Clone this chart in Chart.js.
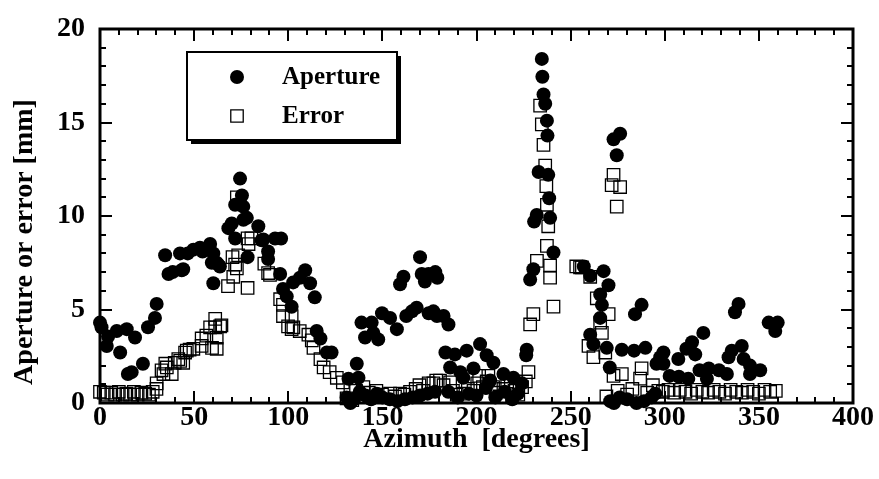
<!DOCTYPE html>
<html>
<head>
<meta charset="utf-8">
<script src="https://cdn.jsdelivr.net/npm/chart.js@4/dist/chart.umd.min.js"></script>
<style>
  html, body { margin: 0; padding: 0; background: #fff; }
  canvas { display: block; }
</style>
</head>
<body>
<canvas id="chart" width="879" height="479"></canvas>
<script>
// Measured fracture aperture and its error versus azimuth
const apertureAz = [
  0, 0.8, 3.6, 4.3, 8.9, 10.7, 14.2, 14.8, 16.8, 18.6, 22.8, 25.5, 29.2, 30.1,
  34.6, 36.4, 38.6, 42.5, 43.4, 44.2, 46.6, 49.6, 53.1, 54.5, 58.5, 59.4, 60.2, 60.2,
  62.0, 62.9, 63.7, 68.2, 70.0, 71.8, 71.8, 74.4, 75.4, 76.1, 76.2, 78.0, 78.4,
  84.1, 85.9, 86.8, 89.3, 89.3, 93.0, 95.7, 96.2, 97.2, 99.2, 101.8, 102.6,
  106.2, 109.0, 111.6, 114.1, 115.1, 117.1, 120.5, 123.0,
  131, 132, 133, 135, 136.4, 137.3, 138, 138.9, 140.8, 141, 144, 144.3, 145.2, 147,
  147.8, 149.8, 150, 154, 154.1, 157.7, 158, 159.4, 161.2, 162, 162.7, 165.7, 166,
  168.2, 170.0, 170, 170.9, 172.6, 174.5, 174.6, 174, 177.1, 178, 178.1, 179.0, 179.2,
  182.5, 183.5, 185, 185.1, 186, 188.5, 190, 191.4, 193, 194.8, 196, 198.4, 200,
  201.9, 205, 205.4, 207.3, 209, 210, 214.3, 215, 219, 219.6, 222, 224.1, 226.4, 226.7,
  228.5, 230.2, 230.6, 232.0, 233.0, 234.7, 235.0, 235.6, 236.5, 237.4, 237.7,
  238.1, 238.6, 239.1, 240.9,
  257, 260.4, 260.4, 262.1, 265.7, 265.7, 266.6, 267.5, 269.2, 270.1, 270.8, 271,
  272.8, 273, 274.5, 276, 276.3, 277.2, 280, 283.7, 284.2, 285, 287.7, 289, 289.7,
  293, 295, 295.6, 297.6, 299.3, 299.3,
  302.6, 307.2, 307.5, 311.5, 312.5, 314.5, 316.2, 318.5, 320.5, 322.4, 323.4,
  328.8, 333, 333.9, 335.6, 337.3, 339.2, 340.9, 341.9, 345.3, 345.3, 350.7,
  355.2, 358.7, 360
];
const apertureMm = [
  4.3, 4.05, 3.05, 3.55, 3.85, 2.7, 3.95, 1.55, 1.65, 3.5, 2.1, 4.05, 4.55, 5.3,
  7.9, 6.9, 7.0, 8.0, 7.1, 7.15, 8.0, 8.2, 8.3, 8.1, 8.5, 7.5, 8.0, 6.4,
  7.5, 7.4, 7.3, 9.35, 9.6, 10.6, 8.8, 12.0, 11.1, 10.5, 9.8, 9.9, 7.8,
  9.45, 8.7, 8.75, 8.1, 7.7, 8.8, 6.9, 8.8, 6.1, 5.7, 5.15, 6.45,
  6.7, 7.1, 6.4, 5.65, 3.85, 3.45, 2.7, 2.7,
  0.3, 1.3, 0.0, 0.2, 2.1, 1.35, 0.6, 4.3, 3.5, 0.4, 0.2, 4.3, 3.75, 0.5,
  3.4, 4.8, 0.3, 0.2, 4.55, 3.95, 0.1, 6.35, 6.75, 0.2, 4.65, 4.9, 0.3,
  5.1, 7.8, 0.4, 6.9, 6.5, 6.9, 4.8, 0.5, 4.9, 0.6, 7.0, 4.65, 6.7,
  4.65, 2.7, 0.6, 4.2, 1.9, 2.6, 0.3, 1.65, 1.35, 2.8, 0.5, 1.85, 0.4,
  3.15, 0.8, 2.55, 1.2, 2.15, 0.3, 1.55, 0.6, 0.2, 1.35, 0.5, 1.05, 2.55, 2.85,
  6.6, 7.15, 9.7, 10.05, 12.35, 18.4, 17.45, 16.5, 16.0, 15.1, 14.3,
  12.2, 10.95, 9.9, 8.05,
  7.3, 6.8, 3.65, 3.15, 5.8, 4.55, 5.25, 7.05, 2.95, 6.3, 1.9, 0.1,
  14.1, 0.0, 13.25, 0.3, 14.4, 2.85, 0.2, 2.8, 4.75, 0.0, 5.25, 0.1, 2.95,
  0.3, 0.5, 2.1, 2.45, 2.7, 2.1,
  1.45, 2.35, 1.4, 2.9, 1.3, 3.25, 2.6, 1.75, 3.75, 1.3, 1.85,
  1.75, 1.55, 2.45, 2.8, 4.85, 5.3, 3.05, 2.35, 2.0, 1.55, 1.75,
  4.3, 3.85, 4.3
];
const errorAz = [
  0, 2, 4, 6, 8, 10, 12, 14, 16, 18, 20, 22, 24, 26, 28, 30, 30.1, 32.7, 33.7,
  34.7, 35.5, 38.1, 39.7, 41.6, 42.6, 44.2, 45.2, 46.1, 47.6, 49.6, 54, 54, 56.5,
  58.5, 59.5, 61.2, 61.2, 62, 62, 63.8, 64.5,
  68, 70.4, 70.8, 71.8, 72.7, 72.7, 73.4, 78.4, 78.4, 78.9, 80.4, 87.3, 89.3, 90.3,
  95.7, 97.2, 97.2, 99.9, 101.8, 101.8, 102.7,
  106.1, 110.7, 112.5, 113.4, 117.1, 118.8, 122, 125.8, 129, 131, 133, 134, 136,
  139.9, 142.8, 146.8, 149.8, 154.1, 156.7, 159.4, 161.7, 164.7, 167.7, 169.7,
  171.6, 174.6, 177.1, 178.6,
  180.6, 182.5, 186, 187.5, 189.5, 193, 195.4, 198.4, 200.4, 201.4, 203.4, 205.4,
  206.3, 208.8, 210.3, 212.3, 214.3, 216.3, 218.2, 220.2, 222.2, 224.2, 226.2, 227.6,
  228.5, 230.2, 232.1, 233.8, 234.7, 235.6, 236.5, 237.1, 237.4, 237.4, 238.1,
  239.1, 239.1, 240.9,
  253, 255, 256, 259.5, 260.4, 262.1, 263.9, 265.7, 266.6, 268.4, 269, 270.2,
  271.8, 272.8, 272.8, 274.5, 275, 276.3, 277.2, 280, 282.8, 286.9, 287.7, 290.7,
  293.7, 296.6, 299,
  302, 305, 308, 311, 314, 317, 320, 323, 326, 329, 332, 335, 338, 341, 344, 347,
  350, 353, 356, 359
];
const errorMm = [
  0.6, 0.55, 0.45, 0.55, 0.45, 0.6, 0.45, 0.5, 0.45, 0.6, 0.45, 0.55, 0.5, 0.45, 0.6, 0.75, 1.05, 1.75, 1.55,
  2.1, 1.9, 1.55, 2.15, 2.35, 2.25, 2.15, 2.7, 2.8, 2.85, 2.9, 3.45, 3.05, 3.6,
  4.05, 2.95, 4.5, 4.05, 3.5, 2.9, 4.1, 4.15,
  6.25, 7.8, 6.75, 7.4, 7.2, 11.0, 7.9, 6.15, 8.8, 8.5, 8.8, 7.45, 6.95, 6.85,
  5.55, 5.25, 4.65, 4.1, 3.95, 4.65, 4.05,
  3.85, 3.65, 3.35, 2.95, 2.35, 1.9, 1.65, 1.35, 1.1, 0.25, 0.85, 0.15, 0.65,
  0.85, 0.55, 0.65, 0.45, 0.5, 0.35, 0.5, 0.45, 0.6, 0.75, 0.95,
  0.65, 1.05, 1.05, 1.2,
  1.2, 0.95, 1.1, 0.65, 0.45, 0.5, 0.75, 0.65, 1.05, 1.45, 0.85, 1.15,
  1.45, 0.85, 0.55, 0.35, 0.75, 1.15, 0.95, 0.65, 0.45, 0.85, 1.15, 1.65,
  4.2, 4.75, 7.6, 15.9, 14.9, 13.8, 12.7, 11.6, 10.6, 8.4, 9.45,
  7.35, 6.7, 5.15,
  7.3, 7.25, 7.25, 3.05, 6.75, 2.45, 5.6, 4.3, 3.75, 2.7, 0.35, 4.75,
  11.65, 12.2, 1.45, 10.5, 0.65, 11.55, 1.55, 0.45, 0.75, 1.3, 1.85, 0.55,
  0.95, 0.65, 0.6,
  0.7, 0.55, 0.7, 0.6, 0.5, 0.7, 0.6, 0.55, 0.7, 0.6, 0.5, 0.7, 0.6, 0.55, 0.7, 0.6,
  0.5, 0.7, 0.6, 0.65
];

// Axis ticks
const xTickValues = [0, 50, 100, 150, 200, 250, 300, 350, 400];
const yTickValues = [0, 5, 10, 15, 20];
const xMinorStep = 10;
const yMinorStep = 1;

const seriesNames = ['Aperture', 'Error'];
const xTitle = 'Azimuth  [degrees]';
const yTitle = 'Aperture or error [mm]';

const SERIF = '"Liberation Serif", "Times New Roman", serif';

const toPoints = (xs, ys) => xs.map((v, i) => ({ x: v, y: ys[i] }));

// White page behind the chart
const whiteBackground = {
  id: 'whiteBackground',
  beforeDraw(chart) {
    const { ctx, width, height } = chart;
    ctx.save();
    ctx.fillStyle = '#fff';
    ctx.fillRect(0, 0, width, height);
    ctx.restore();
  }
};

// Box frame with inward ticks on all four sides
const frameTicks = {
  id: 'frameTicks',
  afterDatasetsDraw(chart) {
    const { ctx, chartArea: a, scales: { x, y } } = chart;
    ctx.save();
    ctx.strokeStyle = '#000';
    ctx.lineWidth = 2;
    ctx.beginPath();
    for (let v = x.min; v <= x.max + 1e-9; v += xMinorStep) {
      const px = Math.round(x.getPixelForValue(v));
      const len = xTickValues.includes(v) ? 12 : 6;
      ctx.moveTo(px, a.bottom); ctx.lineTo(px, a.bottom - len);
      ctx.moveTo(px, a.top); ctx.lineTo(px, a.top + len);
    }
    for (let v = y.min; v <= y.max + 1e-9; v += yMinorStep) {
      const py = Math.round(y.getPixelForValue(v));
      const len = yTickValues.includes(v) ? 12 : 6;
      ctx.moveTo(a.left, py); ctx.lineTo(a.left + len, py);
      ctx.moveTo(a.right, py); ctx.lineTo(a.right - len, py);
    }
    ctx.stroke();
    ctx.lineWidth = 3;
    ctx.strokeRect(a.left, a.top, a.right - a.left, a.bottom - a.top);
    ctx.restore();
  }
};

// Axis titles
const axisTitles = {
  id: 'axisTitles',
  afterDraw(chart) {
    const { ctx, chartArea: a } = chart;
    ctx.save();
    ctx.fillStyle = '#000';
    ctx.font = 'bold 28px ' + SERIF;
    ctx.textAlign = 'center';
    ctx.textBaseline = 'middle';
    ctx.fillText(xTitle, (a.left + a.right) / 2, 440);
    ctx.translate(25, 242);
    ctx.rotate(-Math.PI / 2);
    ctx.fillText(yTitle, 0, 0);
    ctx.restore();
  }
};

// Boxed legend with a drop shadow
const boxLegend = {
  id: 'boxLegend',
  afterDraw(chart) {
    const { ctx } = chart;
    const bx = 187, by = 52, bw = 210, bh = 88, sh = 4;
    const markerX = 237, textX = 282, rows = [77, 116];
    ctx.save();
    ctx.fillStyle = '#000';
    ctx.fillRect(bx + sh, by + sh, bw, bh);
    ctx.fillStyle = '#fff';
    ctx.fillRect(bx, by, bw, bh);
    ctx.strokeStyle = '#000';
    ctx.lineWidth = 2;
    ctx.strokeRect(bx, by, bw, bh);
    chart.data.datasets.forEach((ds, i) => {
      ctx.save();
      ctx.fillStyle = ds.backgroundColor;
      ctx.strokeStyle = ds.borderColor;
      ctx.lineWidth = ds.borderWidth;
      Chart.helpers.drawPoint(ctx, {
        pointStyle: ds.pointStyle,
        radius: ds.pointRadius,
        borderWidth: ds.borderWidth
      }, markerX, rows[i]);
      ctx.restore();
      ctx.fillStyle = '#000';
      ctx.font = 'bold 25px ' + SERIF;
      ctx.textAlign = 'left';
      ctx.textBaseline = 'middle';
      ctx.fillText(ds.label, textX, rows[i] + 1);
    });
    ctx.restore();
  }
};

new Chart(document.getElementById('chart'), {
  type: 'scatter',
  data: {
    datasets: [
      {
        label: seriesNames[0],
        data: toPoints(apertureAz, apertureMm),
        pointStyle: 'circle',
        pointRadius: 7,
        backgroundColor: '#000',
        borderColor: '#000',
        borderWidth: 0,
        clip: false
      },
      {
        label: seriesNames[1],
        data: toPoints(errorAz, errorMm),
        pointStyle: 'rect',
        pointRadius: 8.8,
        backgroundColor: 'rgba(0,0,0,0)',
        borderColor: '#000',
        borderWidth: 1.3,
        clip: false
      }
    ]
  },
  options: {
    responsive: false,
    animation: false,
    devicePixelRatio: 1,
    layout: { padding: { left: 0, top: 23, right: 26, bottom: 0 } },
    plugins: {
      legend: { display: false },
      tooltip: { enabled: false }
    },
    scales: {
      x: {
        type: 'linear',
        min: 0,
        max: 400,
        grid: { display: false, drawTicks: false },
        border: { display: false },
        afterBuildTicks(scale) { scale.ticks = xTickValues.map(v => ({ value: v })); },
        afterFit(scale) { scale.height = 76; },
        ticks: {
          color: '#000',
          padding: 1,
          maxRotation: 0,
          autoSkip: false,
          font: { family: SERIF, size: 28, weight: 'bold', lineHeight: 1 }
        }
      },
      y: {
        type: 'linear',
        min: 0,
        max: 20,
        grid: { display: false, drawTicks: false },
        border: { display: false },
        afterBuildTicks(scale) { scale.ticks = yTickValues.map(v => ({ value: v })); },
        afterFit(scale) { scale.width = 100; },
        ticks: {
          color: '#000',
          padding: 15,
          autoSkip: false,
          font: { family: SERIF, size: 28, weight: 'bold', lineHeight: 1 }
        }
      }
    }
  },
  plugins: [whiteBackground, frameTicks, axisTitles, boxLegend]
});
</script>
</body>
</html>
